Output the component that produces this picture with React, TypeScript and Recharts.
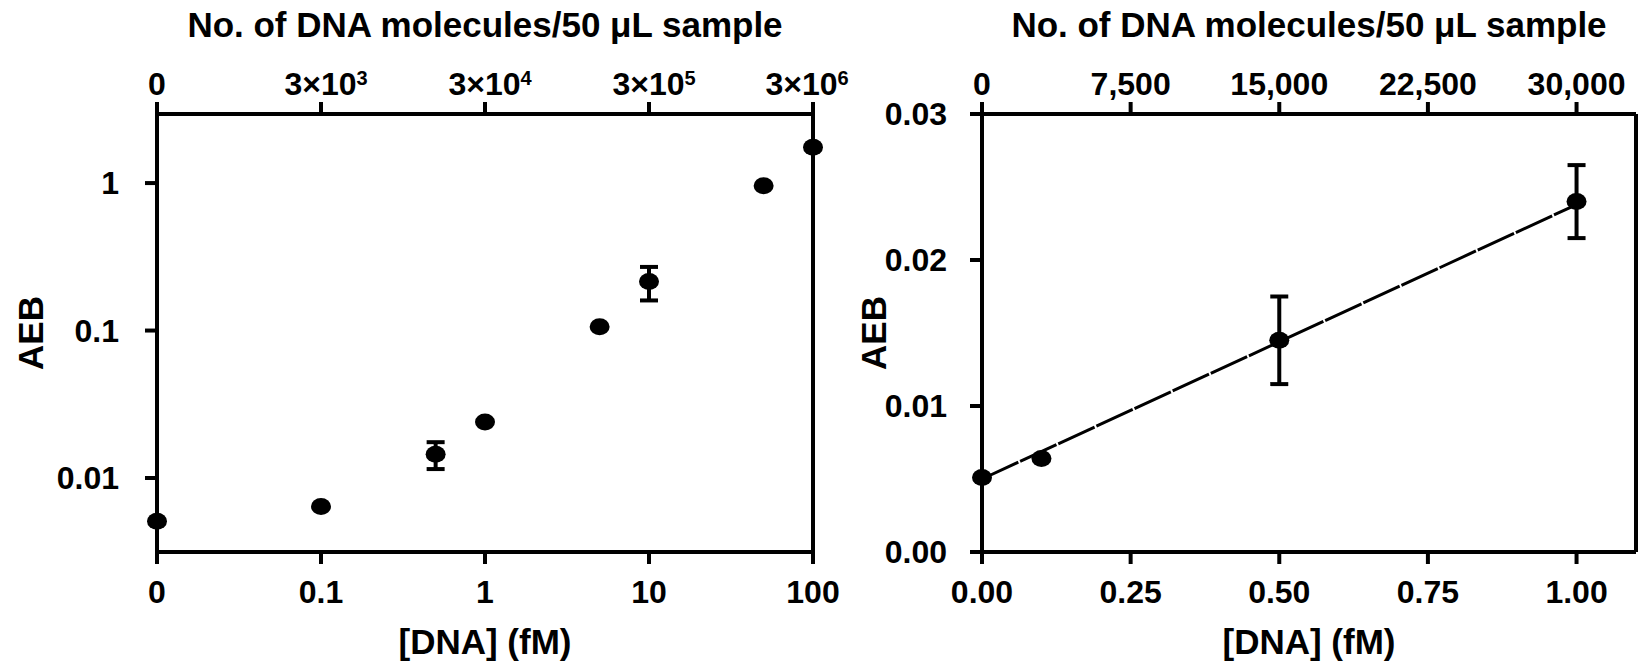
import { ScatterChart, Scatter, XAxis, YAxis, ErrorBar, ReferenceLine } from 'recharts';

const FONT = '"Liberation Sans", Arial, Helvetica, sans-serif';

// [DNA] (fM) vs AEB
const DNA_FM = [0, 0.1, 0.5, 1, 5, 10, 50, 100];
const AEB = [0.0051, 0.0064, 0.0145, 0.024, 0.106, 0.215, 0.96, 1.75];
const AEB_ERR_LOG = [0, 0, 0.003, 0, 0, 0.055, 0, 0];
const AEB_ERR_LIN = [0, 0, 0.003, 0.0025, 0, 0, 0, 0];

// linear fit drawn on the right panel
const FIT_FM = [0, 1];
const FIT_AEB = [0.005, 0.0238];

const MOLECULES_PER_FM = 30000;
const LOG_ZERO = 0.01; // where "0" sits on the log axis

const LOG_X_TICKS = [0.01, 0.1, 1, 10, 100];
const LOG_X_LABELS = ['0', '0.1', '1', '10', '100'];
const LOG_TOP_EXP = [null, 3, 4, 5, 6];
const LOG_Y_TICKS = [0.01, 0.1, 1];
const LOG_Y_LABELS = ['0.01', '0.1', '1'];

const LIN_X_TICKS = [0, 0.25, 0.5, 0.75, 1];
const LIN_TOP_MOLECULES = [0, 7500, 15000, 22500, 30000];
const LIN_Y_TICKS = [0, 0.01, 0.02, 0.03];

const logData = DNA_FM.map((x, i) => ({ x: x === 0 ? LOG_ZERO : x, y: AEB[i], err: AEB_ERR_LOG[i] }));
const linData = DNA_FM.map((x, i) => ({ x, y: AEB[i], err: AEB_ERR_LIN[i] })).filter(d => d.x <= 1.1);
const fitData = FIT_FM.map((x, i) => ({ x, y: FIT_AEB[i] }));

const tickStyle = { fill: '#000', fontSize: 32, fontWeight: 700, fontFamily: FONT };
const axisLine = { stroke: '#000', strokeWidth: 4 };
const tickLine = { stroke: '#000', strokeWidth: 4 };

const Dot = (p: any) => <ellipse cx={p.cx} cy={p.cy} rx={10} ry={8.5} fill="#000" />;
const NoShape = () => <g />;

const TOP_DROP = 5; // top tick labels sit a bit lower than recharts puts them

const TopLogTick = ({ x, y, payload }: any) => {
  const i = LOG_X_TICKS.indexOf(payload.value);
  const exp = LOG_TOP_EXP[i];
  if (exp == null) {
    return <text x={x} y={y + TOP_DROP} textAnchor="middle" {...tickStyle}>0</text>;
  }
  // last label sits a little left of its tick in the original
  const shift = i === LOG_X_TICKS.length - 1 ? -6 : 5;
  return (
    <text x={x + shift} y={y + TOP_DROP} textAnchor="middle" {...tickStyle}>
      3×10<tspan dy={-10} fontSize={20}>{exp}</tspan>
    </text>
  );
};

const TopLinTick = ({ x, y, payload }: any) => (
  <text x={x} y={y + TOP_DROP} textAnchor="middle" {...tickStyle}>
    {Math.round(payload.value * MOLECULES_PER_FM).toLocaleString('en-US')}
  </text>
);

const titleStyle = { fill: '#000', fontSize: 35, fontWeight: 700, fontFamily: FONT };

const App = () => (
  <div style={{ position: 'absolute', left: 0, top: 0, width: 1640, height: 661, background: '#fff' }}>
    {/* log-log panel (svg a bit wider than the panel so the last top label fits) */}
    <div style={{ position: 'absolute', left: 0, top: 0 }}>
      <ScatterChart width={880} height={661} margin={{ top: 34, right: 67, bottom: 9, left: 0 }}>
        <XAxis
          xAxisId="b" type="number" dataKey="x" scale="log" domain={[0.01, 100]} ticks={LOG_X_TICKS}
          tickFormatter={(v: number) => LOG_X_LABELS[LOG_X_TICKS.indexOf(v)]}
          height={100} tickSize={12} tickMargin={16} axisLine={axisLine} tickLine={tickLine} tick={tickStyle}
          interval={0}
        />
        <XAxis
          xAxisId="t" orientation="top" type="number" dataKey="x" scale="log" domain={[0.01, 100]} ticks={LOG_X_TICKS}
          height={80} tickSize={12} tickMargin={12} axisLine={axisLine} tickLine={tickLine} tick={<TopLogTick />}
          interval={0}
        />
        <YAxis
          type="number" dataKey="y" scale="log" domain={[0.00315, 2.94]} ticks={LOG_Y_TICKS}
          tickFormatter={(v: number) => LOG_Y_LABELS[LOG_Y_TICKS.indexOf(v)]}
          width={157} tickSize={12} tickMargin={26} axisLine={axisLine} tickLine={tickLine} tick={tickStyle}
          interval={0}
        />
        <ReferenceLine xAxisId="b" x={100} stroke="#000" strokeWidth={4} />
        {/* same points on the molecules axis, invisible, so the top axis gets a scale */}
        <Scatter xAxisId="t" data={logData} shape={NoShape} isAnimationActive={false} />
        <Scatter xAxisId="b" data={logData} shape={Dot} isAnimationActive={false}>
          <ErrorBar dataKey="err" direction="y" width={9} strokeWidth={4} stroke="#000" isAnimationActive={false} />
        </Scatter>
      </ScatterChart>
    </div>

    {/* linear panel */}
    <div style={{ position: 'absolute', left: 840, top: 0 }}>
      <ScatterChart width={800} height={661} margin={{ top: 34, right: 4, bottom: 9, left: 0 }}>
        <XAxis
          xAxisId="b" type="number" dataKey="x" domain={[0, 1.1]} ticks={LIN_X_TICKS}
          tickFormatter={(v: number) => v.toFixed(2)}
          height={100} tickSize={12} tickMargin={16} axisLine={axisLine} tickLine={tickLine} tick={tickStyle}
          interval={0}
        />
        <XAxis
          xAxisId="t" orientation="top" type="number" dataKey="x" domain={[0, 1.1]}
          ticks={LIN_TOP_MOLECULES.map(m => m / MOLECULES_PER_FM)}
          height={80} tickSize={12} tickMargin={12} axisLine={axisLine} tickLine={tickLine} tick={<TopLinTick />}
          interval={0}
        />
        <YAxis
          type="number" dataKey="y" domain={[0, 0.03]} ticks={LIN_Y_TICKS}
          tickFormatter={(v: number) => v.toFixed(2)}
          width={142} tickSize={12} tickMargin={23} axisLine={axisLine} tickLine={tickLine} tick={tickStyle}
          interval={0}
        />
        <ReferenceLine xAxisId="b" x={1.1} stroke="#000" strokeWidth={4} />
        <Scatter xAxisId="t" data={linData} shape={NoShape} isAnimationActive={false} />
        <Scatter
          xAxisId="b" data={fitData} shape={NoShape} isAnimationActive={false}
          line={{ stroke: '#000', strokeWidth: 3, strokeDasharray: '40 2' }}
        />
        <Scatter xAxisId="b" data={linData} shape={Dot} isAnimationActive={false}>
          <ErrorBar dataKey="err" direction="y" width={9} strokeWidth={4} stroke="#000" isAnimationActive={false} />
        </Scatter>
      </ScatterChart>
    </div>

    {/* axis titles */}
    <svg width={1640} height={661} style={{ position: 'absolute', left: 0, top: 0, pointerEvents: 'none' }}>
      <text x={485} y={37} textAnchor="middle" {...titleStyle}>No. of DNA molecules/50 μL sample</text>
      <text x={1309} y={37} textAnchor="middle" {...titleStyle}>No. of DNA molecules/50 μL sample</text>
      <text x={485} y={654} textAnchor="middle" {...titleStyle}>[DNA] (fM)</text>
      <text x={1309} y={654} textAnchor="middle" {...titleStyle}>[DNA] (fM)</text>
      <text x={30} y={333} textAnchor="middle" dominantBaseline="central" transform="rotate(-90 30 333)" {...titleStyle}>AEB</text>
      <text x={873} y={333} textAnchor="middle" dominantBaseline="central" transform="rotate(-90 873 333)" {...titleStyle}>AEB</text>
    </svg>
  </div>
);

export default App;
